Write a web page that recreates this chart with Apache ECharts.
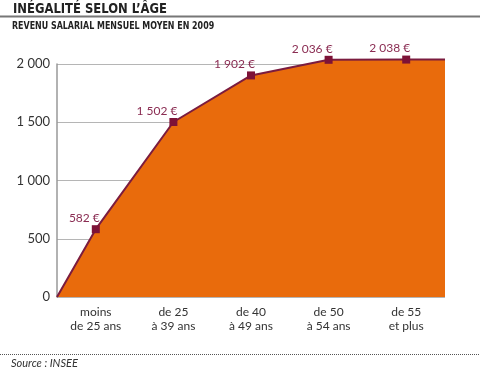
<!DOCTYPE html>
<html><head><meta charset="utf-8">
<script src="https://cdn.jsdelivr.net/npm/echarts@6/dist/echarts.min.js"></script>
<style>html,body{margin:0;padding:0;background:#fff}#c{width:480px;height:371px}</style>
</head><body><div id="c"></div>
<script>
const categories = ["moins\nde 25 ans", "de 25\nà 39 ans", "de 40\nà 49 ans", "de 50\nà 54 ans", "de 55\net plus"];
const values = [582, 1502, 1902, 2036, 2038];
const valueLabels = ["582 €", "1 502 €", "1 902 €", "2 036 €", "2 038 €"];
const yTicks = [0, 500, 1000, 1500, 2000];

const font = "Lato";
const n = categories.length;
const lineData = [{value: [0, 0], symbol: 'none', label: {show: false}}];
values.forEach((v, i) => lineData.push({value: [i + 0.5, v], labelText: valueLabels[i]}));
lineData.push({value: [n, values[n - 1]], symbol: 'none', label: {show: false}});

const chart = echarts.init(document.getElementById('c'), null, {renderer: 'canvas'});
chart.setOption({
  animation: false,
  grid: {left: 57, right: 35, top: 64, bottom: 74, containLabel: false},
  xAxis: [
    {type: 'category', data: categories, boundaryGap: true,
     axisLine: {show: false}, axisTick: {show: false},
     axisLabel: {color: '#333', fontFamily: font, fontSize: 12, lineHeight: 14, margin: 8}},
    {type: 'value', min: 0, max: n, show: false}
  ],
  yAxis: {type: 'value', min: 0, max: 2000, interval: 500,
    axisLine: {show: true, lineStyle: {color: '#999', width: 1.5}},
    axisTick: {show: false},
    splitLine: {lineStyle: {color: '#b5b5b5', width: 1}},
    axisLabel: {color: '#333', fontFamily: font, fontSize: 13, margin: 7,
      formatter: v => yTicks.includes(v) ? String(v).replace(/\B(?=(\d{3})+(?!\d))/g, ' ') : ''}
  },
  series: [{
    type: 'line', xAxisIndex: 1, data: lineData, clip: false,
    symbol: 'rect', symbolSize: 8,
    itemStyle: {color: '#7d1237'},
    lineStyle: {color: '#7b1c3f', width: 2},
    areaStyle: {color: '#e96b0c', opacity: 1},
    label: {show: true, position: 'top', distance: 1, align: 'right', offset: [4, 0],
      color: '#8a2c52', fontFamily: font, fontSize: 12,
      formatter: p => p.data.labelText || ''}
  }],
  graphic: [
    {type: 'text', x: 13, y: 2, scaleX: 0.92, style: {text: "INÉGALITÉ SELON L’ÂGE", fontFamily: "DejaVu Sans Condensed", fontWeight: 'bold', fontSize: 14, fill: '#222'}},
    {type: 'line', shape: {x1: 0, y1: 16.5, x2: 480, y2: 16.5}, style: {stroke: '#777', lineWidth: 2}},
    {type: 'text', x: 12, y: 21, scaleX: 0.84, style: {text: "REVENU SALARIAL MENSUEL MOYEN EN 2009", fontFamily: "DejaVu Sans Condensed", fontWeight: 'bold', fontSize: 10.5, fill: '#222'}},
    {type: 'line', shape: {x1: 0, y1: 354.5, x2: 480, y2: 354.5}, style: {stroke: '#555', lineWidth: 1, lineDash: [1, 1]}},
    {type: 'text', left: 11, top: 358, style: {text: "Source : INSEE", fontFamily: font, fontStyle: 'italic', fontSize: 11, fill: '#333'}}
  ]
});
</script></body></html>
